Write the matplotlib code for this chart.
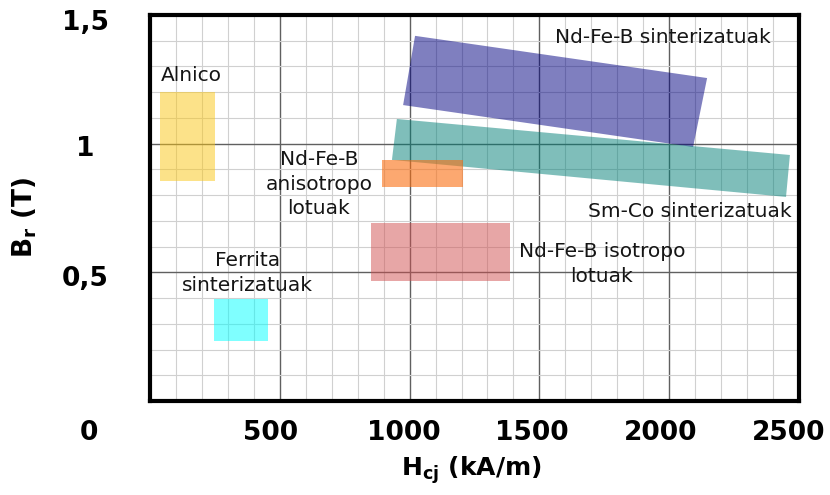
import matplotlib
matplotlib.use("Agg")
import matplotlib.pyplot as plt
from matplotlib.patches import Polygon, Rectangle
from matplotlib.ticker import MultipleLocator

# ===================== DATA =====================
# axis-aligned regions: (x0, x1, y0, y1) in kA/m and T
rect_names = ["Alnico", "Ferrita", "NdFeB_aniso", "NdFeB_iso"]
rect_x = [(40, 250), (245, 455), (895, 1205), (850, 1385)]
rect_y = [(0.855, 1.20), (0.235, 0.395), (0.832, 0.937), (0.466, 0.692)]
rect_colors = ["#fbc715", "#00ffff", "#fa6e11", "#d14f4f"]
rect_alpha = [0.5, 0.5, 0.6, 0.5]

# tilted regions: corners (x, y)
ndfeb_sint_x = [1021, 2146, 2092, 975]
ndfeb_sint_y = [1.419, 1.255, 0.987, 1.150]
smco_x = [951, 2465, 2450, 932]
smco_y = [1.096, 0.956, 0.793, 0.937]

labels = ["Alnico", "Nd-Fe-B\nanisotropo\nlotuak", "Ferrita\nsinterizatuak",
          "Nd-Fe-B sinterizatuak", "Sm-Co sinterizatuak", "Nd-Fe-B isotropo\nlotuak"]
label_x = [158, 651, 374, 1976, 2080, 1741]
label_y = [1.263, 0.843, 0.497, 1.411, 0.735, 0.532]

xtick_labels = ["0", "500", "1000", "1500", "2000", "2500"]
xtick_pos = [-235, 466, 978, 1471, 1968, 2461]
ytick_labels = ["1,5", "1", "0,5"]
ytick_pos = [1.47, 0.98, 0.475]

# ===================== FIGURE =====================
fig = plt.figure(figsize=(8.3, 4.95), dpi=100)
ax = fig.add_axes([150 / 830, 1 - 401 / 495, 649 / 830, 386 / 495])
ax.set_xlim(0, 2500)
ax.set_ylim(0, 1.5)

ax.xaxis.set_major_locator(MultipleLocator(500))
ax.xaxis.set_minor_locator(MultipleLocator(100))
ax.yaxis.set_major_locator(MultipleLocator(0.5))
ax.yaxis.set_minor_locator(MultipleLocator(0.1))
ax.grid(which="minor", color="#d0d0d0", lw=0.8)
ax.grid(which="major", color="#606060", lw=1.0)
ax.set_axisbelow(True)
ax.tick_params(which="both", length=0, labelbottom=False, labelleft=False)
for s in ax.spines.values():
    s.set_linewidth(3)

ax.add_patch(Polygon(list(zip(ndfeb_sint_x, ndfeb_sint_y)), fc="#000081", ec="none", alpha=0.5))
ax.add_patch(Polygon(list(zip(smco_x, smco_y)), fc="#007f77", ec="none", alpha=0.5))

for (x0, x1), (y0, y1), c, a in zip(rect_x, rect_y, rect_colors, rect_alpha):
    ax.add_patch(Rectangle((x0, y0), x1 - x0, y1 - y0, fc=c, ec="none", alpha=a))

for t, x, y in zip(labels, label_x, label_y):
    ax.text(x, y, t, ha="center", va="center", fontsize=14.5, color="#151515",
            linespacing=1.35)

# ===================== TICK LABELS =====================
for t, x in zip(xtick_labels, xtick_pos):
    ax.text(x, -0.124, t, ha="center", va="center", fontsize=19,
            fontweight="bold", clip_on=False)
for t, y in zip(ytick_labels, ytick_pos):
    ax.text(-250, y, t, ha="center", va="center", fontsize=19,
            fontweight="bold", clip_on=False)

fig.text(471 / 830, 1 - 470 / 495, r"$\mathbf{H_{cj}}$ (kA/m)", ha="center",
         va="center", fontsize=18, fontweight="bold")
fig.text(25 / 830, 1 - 217 / 495, r"$\mathbf{B_{r}}$ (T)", ha="center",
         va="center", fontsize=19, fontweight="bold", rotation=90)

fig.savefig("out.png", dpi=100)
